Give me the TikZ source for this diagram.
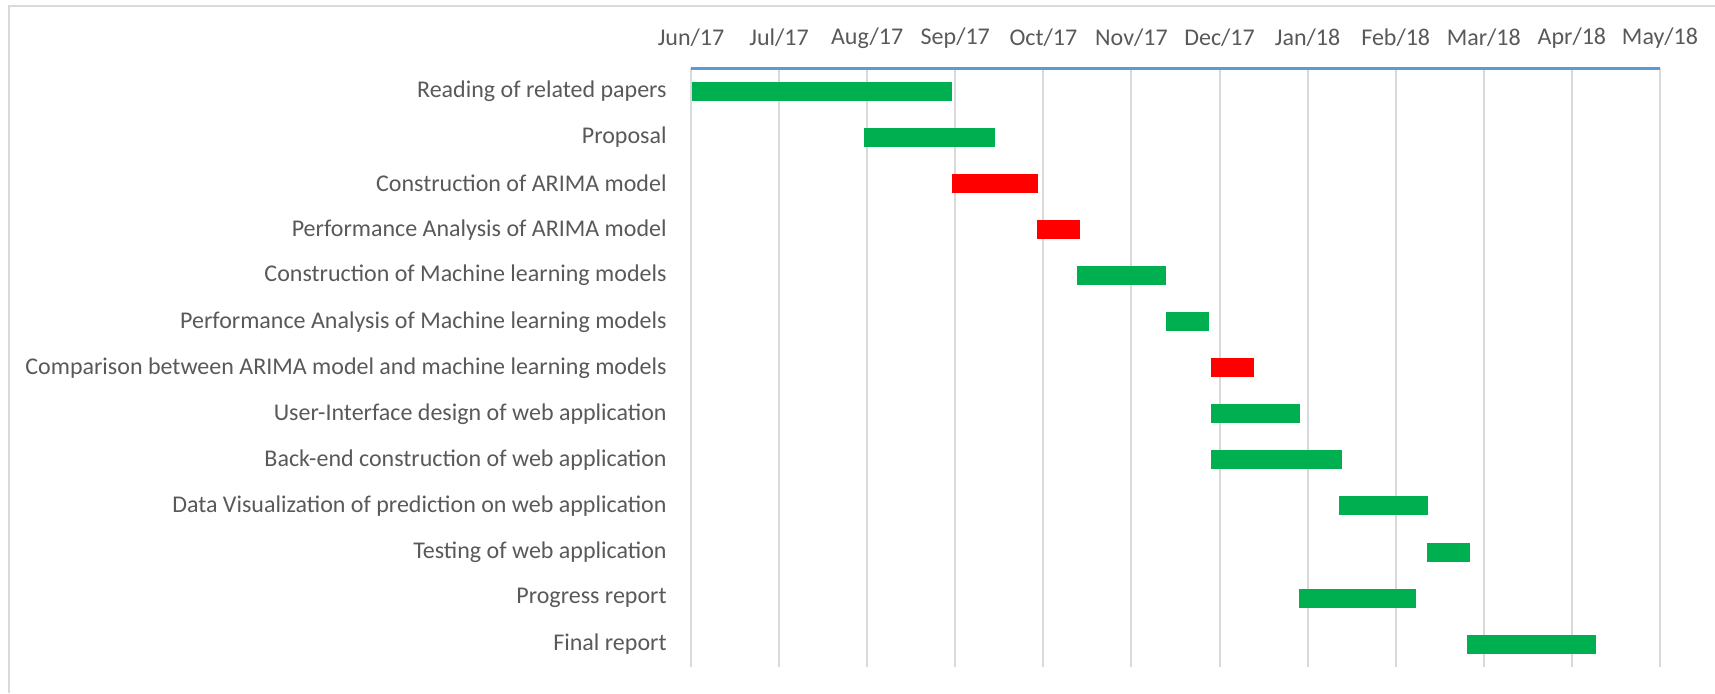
\documentclass[tikz,border=0pt]{standalone}
\usepackage{fontspec}
\setmainfont{Carlito}
\usepackage{xcolor}
\usetikzlibrary{positioning}
\definecolor{barGreen}{HTML}{00B050}
\definecolor{barRed}{HTML}{FF0000}
\definecolor{gridGray}{HTML}{D9D9D9}
\definecolor{axisBlue}{HTML}{5B9BD5}
\definecolor{textGray}{HTML}{595959}

\begin{document}
\begin{tikzpicture}[x=0.5pt,y=-0.5pt,
        month/.style={text=textGray,inner sep=0pt,font=\fontsize{12}{14}\selectfont},
        task/.style={anchor=east,text=textGray,inner sep=0pt,font=\fontsize{12}{14}\selectfont}]
            \useasboundingbox (0,0) rectangle (1715,693);
            \draw[gridGray,line width=1pt](9,693)--(9,6)--(1715,6);
            % months and grid
            \foreach \m [count=\i from 0] in {Jun/17,Jul/17,Aug/17,Sep/17,Oct/17,Nov/17,Dec/17,Jan/18,Feb/18,Mar/18,Apr/18,May/18}{
                    \draw[gridGray,line width=1pt](691+88.09*\i,68)--(691+88.09*\i,667);
                    \node[month] (m\i) at (691+88.09*\i,38) {\m};}
            \draw[axisBlue,line width=1.5pt](m0.south |- 0,68.3)--(m11.south |- 0,68.3);
            % tasks
            \foreach \t/\a/\b/\c [count=\i from 0] in {
                    Reading of related papers/692/952/barGreen,
                    Proposal/864/995/barGreen,
                    Construction of ARIMA model/952/1038/barRed,
                    Performance Analysis of ARIMA model/1037/1080/barRed,
                    Construction of Machine learning models/1077/1166/barGreen,
                    Performance Analysis of Machine learning models/1166/1209/barGreen,
                    Comparison between ARIMA model and machine learning models/1211/1254/barRed,
                    User-Interface design of web application/1211/1300/barGreen,
                    Back-end construction of web application/1211/1342/barGreen,
                    Data Visualization of prediction on web application/1339/1428/barGreen,
                    Testing of web application/1427/1470/barGreen,
                    Progress report/1299/1416/barGreen,
                    Final report/1467/1596/barGreen}{
                    \node[task] (t\i) at (667,91.5+46.05*\i) {\t};
                    \fill[\c](\a,82+46.05*\i)rectangle(\b,101+46.05*\i);}
        \end{tikzpicture}
\end{document}
